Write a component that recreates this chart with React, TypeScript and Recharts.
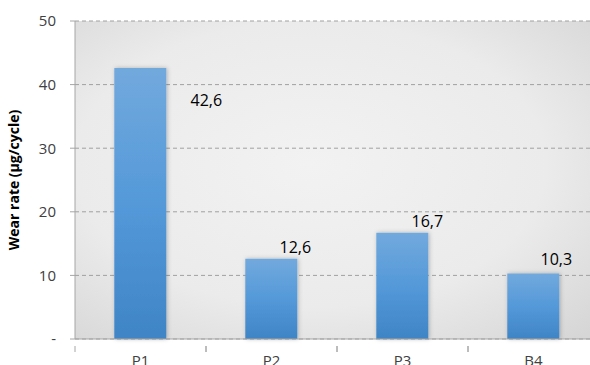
import { Bar, BarChart, CartesianGrid, LabelList, XAxis, YAxis } from "recharts";

const categories = ["P1", "P2", "P3", "B4"];
const wearRate = [42.6, 12.6, 16.7, 10.3];
const yTicks = [0, 10, 20, 30, 40, 50];

const data = categories.map((name, i) => ({ name, value: wearRate[i] }));

// Excel-style manually dragged data labels (offset from bar top-right corner)
const labelShift = [
  { dx: 40, dy: 32 },
  { dx: -2, dy: -12 },
  { dx: -1, dy: -12 },
  { dx: -3, dy: -14 },
];

const font = "'Open Sans', 'Liberation Sans', sans-serif";

function ValueLabel(props: any) {
  const { x, y, width, value, index } = props;
  const s = labelShift[index] || { dx: 0, dy: -10 };
  return (
    <text x={x + width + s.dx} y={y + s.dy} textAnchor="middle" dominantBaseline="central" fontSize={16} fill="#000" fontFamily={font}>
      {String(value).replace(".", ",")}
    </text>
  );
}

function CatTick(props: any) {
  const { x, y, payload } = props;
  const half = payload && payload.offset ? payload.offset : 65.5;
  return (
    <g>
      <line x1={x - half} y1={y - 1} x2={x - half} y2={y + 5} stroke="#a6a6a6" />
      <line x1={x + half} y1={y - 1} x2={x + half} y2={y + 5} stroke="#a6a6a6" />
      <text x={x} y={y + 19} textAnchor="middle" fontSize={15} fill="#404040" fontFamily={font}>
        {payload.value}
      </text>
    </g>
  );
}

export default function App() {
  return (
    <div style={{ position: "fixed", left: 0, top: 0, width: 590, height: 365, overflow: "hidden", background: "#fff" }}>
      <BarChart width={610} height={365} data={data} margin={{ top: 21, right: 11, bottom: 0, left: 0 }} barCategoryGap="30%">
        <defs>
          <radialGradient id="plotBg" cx="0.45" cy="0.45" r="0.75">
            <stop offset="0%" stopColor="#f2f2f2" />
            <stop offset="60%" stopColor="#ebebeb" />
            <stop offset="100%" stopColor="#d6d6d6" />
          </radialGradient>
          <linearGradient id="barFill" x1="0" y1="0" x2="0" y2="1">
            <stop offset="0%" stopColor="#72a9dd" />
            <stop offset="50%" stopColor="#5499d9" />
            <stop offset="100%" stopColor="#3f85c6" />
          </linearGradient>
          <filter id="barShadow" x="-20%" y="-10%" width="140%" height="120%">
            <feDropShadow dx="1" dy="0" stdDeviation="2" floodColor="#000" floodOpacity="0.25" />
          </filter>
        </defs>
        <CartesianGrid vertical={false} fill="url(#plotBg)" fillOpacity={1} stroke="#a0a0a0" strokeDasharray="4 3" />
        <XAxis
          dataKey="name"
          height={26}
          axisLine={{ stroke: "#a6a6a6" }}
          tickLine={false}
          tick={<CatTick />}
          interval={0}
        />
        <YAxis
          width={75}
          domain={[0, 50]}
          ticks={yTicks}
          interval={0}
          axisLine={{ stroke: "#a6a6a6" }}
          tickLine={{ stroke: "#a6a6a6" }}
          tickSize={5}
          tickMargin={14}
          tick={{ fontSize: 15, fill: "#404040", fontFamily: font }}
          tickFormatter={(v: number) => (v === 0 ? "-" : String(v))}
          label={{
            value: "Wear rate (µg/cycle)",
            angle: -90,
            position: "insideLeft",
            dx: 9,
            style: { textAnchor: "middle", fontSize: 14, fontWeight: "bold", fill: "#000", fontFamily: font },
          }}
        />
        <Bar dataKey="value" fill="url(#barFill)" filter="url(#barShadow)" isAnimationActive={false}>
          <LabelList dataKey="value" content={<ValueLabel />} />
        </Bar>
      </BarChart>
    </div>
  );
}
